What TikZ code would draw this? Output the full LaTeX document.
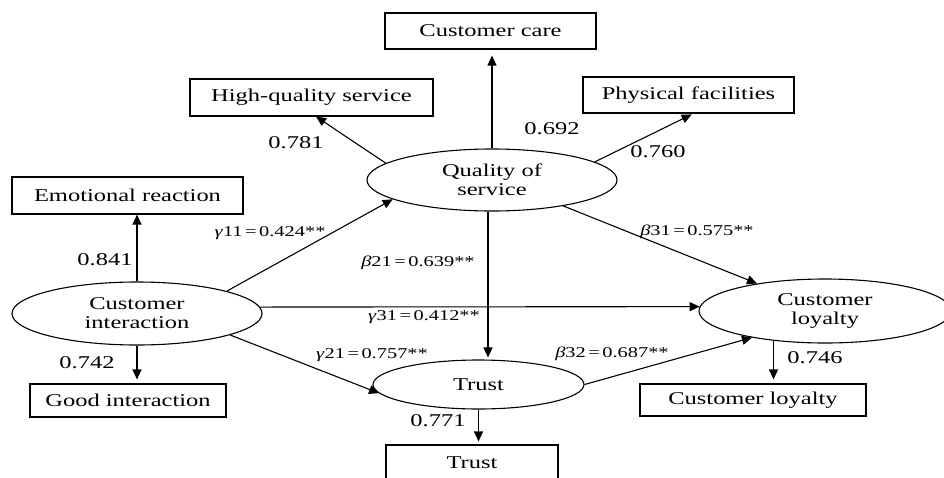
\documentclass[tikz,border=0pt]{standalone}
\usepackage{fontspec}
\setmainfont{Liberation Serif}[FakeStretch=1.36]
\usetikzlibrary{shapes.geometric,arrows.meta}
\begin{document}
\begin{tikzpicture}[x=1pt,y=-1pt,line width=1.1pt,
  box/.style={draw,rectangle,inner sep=0pt,font=\fontsize{18}{19}\selectfont},
  lat/.style={draw,ellipse,inner sep=0pt,align=center,font=\fontsize{18}{19}\selectfont},
  load/.style={inner sep=0pt,font=\fontsize{18}{19}\selectfont},
  coef/.style={inner sep=0pt,font=\fontsize{15}{17}\selectfont},
  arr/.style={-{Triangle[length=10pt,width=9pt]}}]
\useasboundingbox (0,0) rectangle (944,477);
% indicator boxes
\node[box,minimum width=211pt,minimum height=36pt] (cc) at (490.5,31) {Customer care};
\node[box,minimum width=243pt,minimum height=37pt] (hq) at (311.5,97.5) {High-quality service};
\node[box,minimum width=211pt,minimum height=36pt] (pf) at (688.5,95) {Physical facilities};
\node[box,minimum width=231pt,minimum height=37pt] (er) at (127.5,195.5) {Emotional reaction};
\node[box,minimum width=196pt,minimum height=33pt] (gi) at (128,400.5) {Good interaction};
\node[box,minimum width=226pt,minimum height=32pt] (clb) at (753,400) {Customer loyalty};
\node[box,minimum width=172pt,minimum height=36pt] (tb) at (472,463) {Trust};
% latent variables
\node[lat,minimum width=250pt,minimum height=62pt] (qs) at (492,180) {Quality of\\service};
\node[lat,minimum width=250pt,minimum height=63pt] (ci) at (137,313.5) {Customer\\interaction};
\node[lat,minimum width=211pt,minimum height=49pt] (tr) at (478.5,384.5) {Trust};
\node[lat,minimum width=252pt,minimum height=64pt] (cl) at (825,311) {Customer\\loyalty};
% connectors
\draw[arr,shorten >=6pt] (qs.north) -- (qs.north |- cc.south);
\draw[arr] (qs.171) -- ([xshift=4.5pt]hq.south);
\draw[arr,shorten >=2pt] (qs.10) -- ([xshift=5pt]pf.south);
\draw[arr] (ci.north) -- (ci.north |- er.south);
\draw[arr,shorten >=4pt] (ci.south) -- (ci.south |- gi.north);
\draw[arr] (ci.14) -- (qs.191);
\draw[arr] (ci.3) -- (cl.178);
\draw[arr] (ci.-13) -- (tr.185);
\draw[arr,shorten >=2pt] ([xshift=-4pt]qs.south) -- ([xshift=-4pt]qs.south |- tr.north);
\draw[arr] (qs.-20) -- (cl.158);
\draw[arr] (tr.east) -- (cl.200);
\draw[arr,shorten >=3pt] (tr.south) -- (tr.south |- tb.north);
\draw[arr,shorten >=4pt] (cl.210) -- (cl.210 |- clb.north);
% loadings
\node[load] (l1) at (296,143) {0.781};
\node[load] (l2) at (552,129) {0.692};
\node[load] (l3) at (658,152) {0.760};
\node[load] (l4) at (105,260) {0.841};
\node[load] (l5) at (87,363) {0.742};
\node[load] (l6) at (438,421) {0.771};
\node[load] (l7) at (815,358) {0.746};
% path coefficients
\node[coef] (g11) at (270,233) {\textit{γ}11\,=\,0.424**};
\node[coef] (b21) at (418,263) {\textit{β}21\,=\,0.639**};
\node[coef] (g31) at (424,317) {\textit{γ}31\,=\,0.412**};
\node[coef] (g21) at (372,355) {\textit{γ}21\,=\,0.757**};
\node[coef] (b31) at (697,232) {\textit{β}31\,=\,0.575**};
\node[coef] (b32) at (612,354) {\textit{β}32\,=\,0.687**};
\end{tikzpicture}
\end{document}
